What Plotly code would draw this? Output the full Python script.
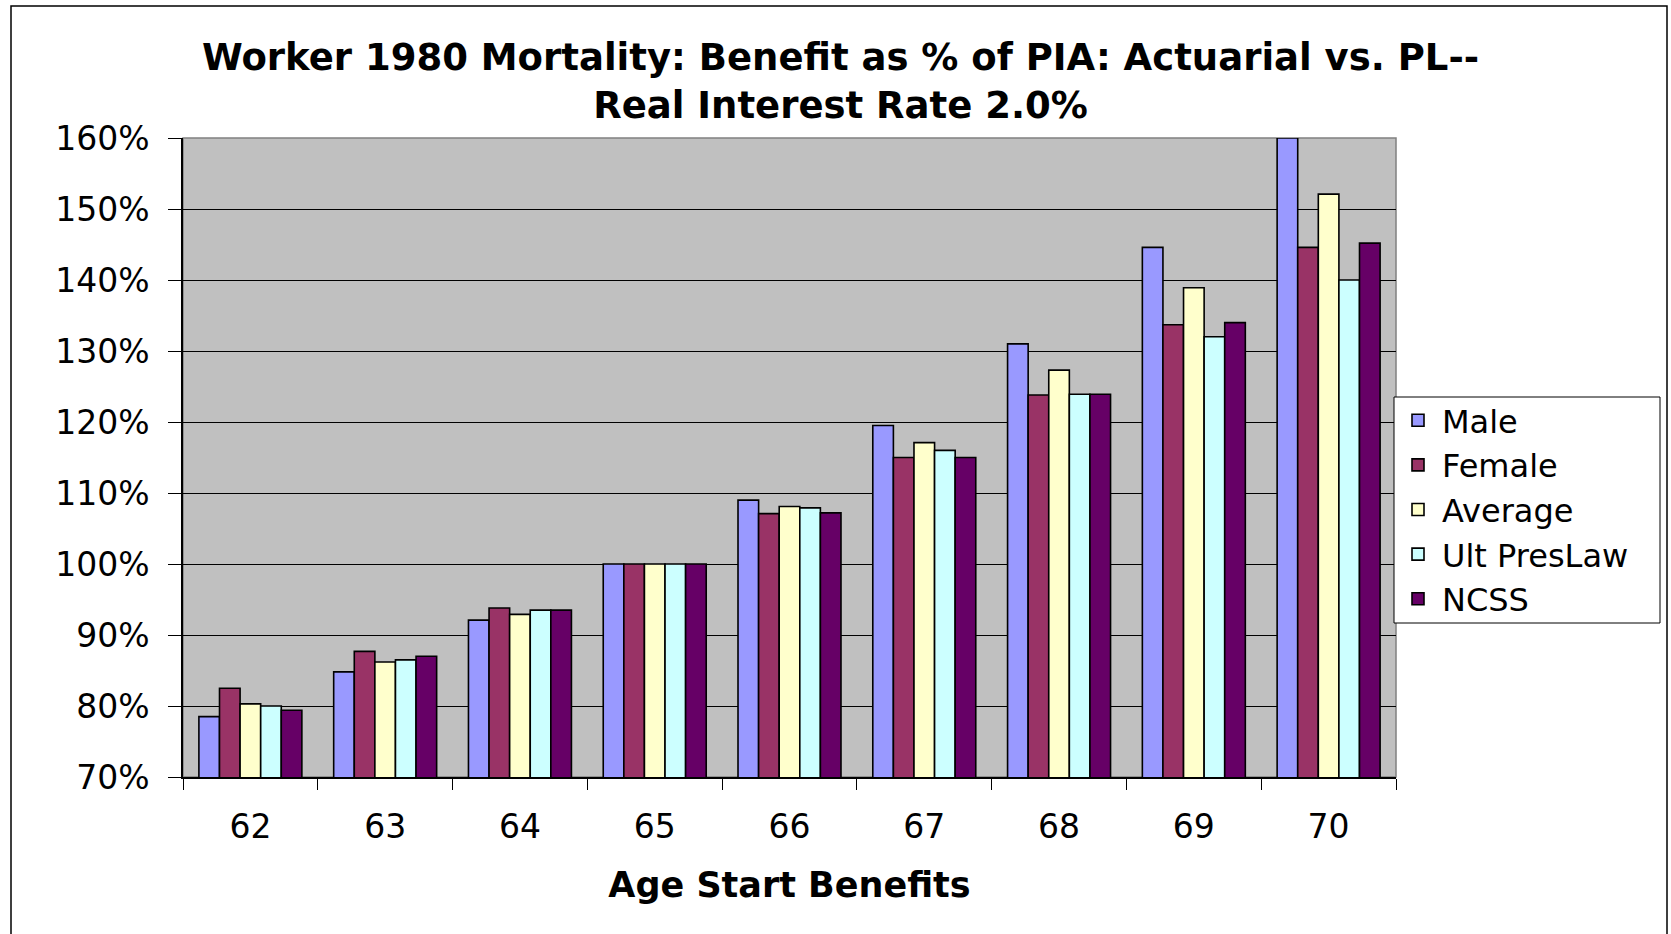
import plotly.graph_objects as go

# Age at which benefits start (x categories)
ages = ["62", "63", "64", "65", "66", "67", "68", "69", "70"]

# Benefit as % of PIA for each mortality / adjustment basis
male = [78.5, 84.8, 92.1, 100.0, 109.0, 119.5, 131.0, 144.6, 160.0]
female = [82.5, 87.7, 93.8, 100.0, 107.1, 115.0, 123.8, 133.7, 144.6]
average = [80.3, 86.2, 92.9, 100.0, 108.1, 117.1, 127.3, 138.9, 152.1]
ult_preslaw = [80.0, 86.5, 93.5, 100.0, 107.9, 116.0, 123.9, 132.0, 140.0]
ncss = [79.4, 87.0, 93.5, 100.0, 107.2, 115.0, 123.9, 134.0, 145.2]

series_names = ["Male", "Female", "Average", "Ult PresLaw", "NCSS"]
series_values = [male, female, average, ult_preslaw, ncss]
series_colors = ["#9999FF", "#993366", "#FFFFCC", "#CCFFFF", "#660066"]

y_ticks = [70, 80, 90, 100, 110, 120, 130, 140, 150, 160]
y_tick_labels = [f"{v}%" for v in y_ticks]

W, H = 1671, 934
ML, MR, MT, MB = 183, 275, 138, 157
PW, PH = W - ML - MR, H - MT - MB


def px_x(x):
    return (x - ML) / PW


def px_y(y):
    return (H - MB - y) / PH


FONT = "DejaVu Sans"

fig = go.Figure()
for name, vals, col in zip(series_names, series_values, series_colors):
    fig.add_trace(go.Bar(
        x=ages, y=vals, name=name,
        marker=dict(color=col, line=dict(color="black", width=1.6)),
    ))

fig.update_layout(
    width=W, height=H,
    margin=dict(l=ML, r=MR, t=MT, b=MB, autoexpand=False),
    paper_bgcolor="white",
    plot_bgcolor="#C0C0C0",
    barmode="group",
    bargap=0.236,
    bargroupgap=0,
    title=dict(
        text="Worker 1980 Mortality: Benefit as % of PIA: Actuarial vs. PL--<br>Real Interest Rate 2.0%",
        font=dict(family=FONT, size=37, color="black", weight="bold"),
        x=0.503, xref="container", xanchor="center",
        y=1 - 70 / H, yref="container", yanchor="middle",
    ),
    font=dict(family=FONT, color="black"),
    legend=dict(
        x=px_x(1394), y=px_y(393), xanchor="left", yanchor="top",
        bgcolor="rgba(0,0,0,0)", borderwidth=0,
        font=dict(family=FONT, size=32, color="black"),
        tracegroupgap=0,
        itemwidth=38,
    ),
    showlegend=True,
)

fig.update_xaxes(
    type="category",
    tickson="boundaries",
    ticks="outside", ticklen=11, tickcolor="black", tickwidth=1,
    showline=True, linecolor="black", linewidth=1.5,
    showgrid=False,
    tickfont=dict(family=FONT, size=33, color="black"),
    ticklabelstandoff=20,
    title=dict(text="<b>Age Start Benefits</b>",
               font=dict(family=FONT, size=35, color="black"),
               standoff=27),
)

fig.update_yaxes(
    range=[70, 160],
    tickmode="array",
    tickvals=y_ticks,
    ticktext=y_tick_labels,
    ticks="outside", ticklen=13, tickcolor="black", tickwidth=1,
    showline=True, linecolor="black", linewidth=1.5,
    showgrid=True, gridcolor="black", gridwidth=1,
    zeroline=False,
    tickfont=dict(family=FONT, size=33, color="black"),
    ticklabelstandoff=12,
)

# plot-area border (top and right edges in grey)
fig.add_shape(type="rect", xref="paper", yref="paper",
              x0=0, x1=1, y0=0, y1=1,
              line=dict(color="#808080", width=1.5), layer="below")

# legend box behind the legend entries
fig.add_shape(type="rect", xref="paper", yref="paper",
              x0=px_x(1394), x1=px_x(1660), y0=px_y(623), y1=px_y(397),
              fillcolor="white", line=dict(color="black", width=1), layer="above")

# outer chart frame
fig.add_shape(type="rect", xref="paper", yref="paper",
              x0=px_x(11), x1=px_x(1667), y0=px_y(950), y1=px_y(6),
              line=dict(color="black", width=1.5), layer="above")

fig.write_html("out.html")
